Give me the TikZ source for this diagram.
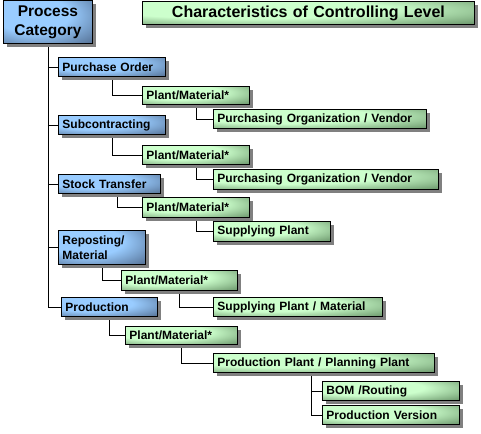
\documentclass[tikz,border=0pt]{standalone}
\usepackage{fontspec}
\setmainfont{Liberation Sans}
\usepackage{tikz}
\usetikzlibrary{shadows, backgrounds}
\usepackage{xcolor}

\definecolor{catlight}{HTML}{99CCFF}
\definecolor{catdark}{HTML}{3C506E}
\definecolor{charlight}{HTML}{CCFFCC}
\definecolor{chardark}{HTML}{466E46}

\pgfdeclareradialshading{catshade}{\pgfpoint{-12bp}{12bp}}{color(0bp)=(catlight); color(21bp)=(catlight); color(51bp)=(catdark); color(80bp)=(catdark)}
\pgfdeclareradialshading{charshade}{\pgfpoint{-12bp}{12bp}}{color(0bp)=(charlight); color(21bp)=(charlight); color(51bp)=(chardark); color(80bp)=(chardark)}

\tikzset{
	box/.style={draw, line width=0.9pt, anchor=north west, inner xsep=4pt, inner ysep=0pt,
		font=\bfseries\fontsize{12}{14}\selectfont, align=left,
		drop shadow={shadow xshift=4pt, shadow yshift=-4pt, fill=black!50, opacity=1}},
	catbox/.style={box, shade, shading=catshade},
	charbox/.style={box, shade, shading=charshade},
	link/.style={draw, line width=0.8pt}
}

\begin{document}
\begin{tikzpicture}[x=1pt, y=-1pt]
	\useasboundingbox (0,0) rectangle (481,433);
	\node[rectangle] at (3,0) [catbox, text width=81pt, minimum height=43pt, align=center, font=\bfseries\fontsize{15.5}{19}\selectfont] (pc) {Process\\Category};
	\node[rectangle] at (142,1) [charbox, text width=324pt, minimum height=23pt, align=center, font=\bfseries\fontsize{16}{18}\selectfont] (title) {Characteristics of Controlling Level};

	\node[rectangle] at (58,57) [catbox, text width=99pt, minimum height=19pt] (po) {Purchase Order};
	\node[rectangle] at (142,86) [charbox, text width=99pt, minimum height=18pt] (pm1) {Plant/Material*};
	\node[rectangle] at (213,109) [charbox, text width=205pt, minimum height=19pt] (pov1) {Purchasing Organization / Vendor};

	\node[rectangle] at (58,115) [catbox, text width=99pt, minimum height=19pt] (sub) {Subcontracting};
	\node[rectangle] at (142,145) [charbox, text width=99pt, minimum height=19pt] (pm2) {Plant/Material*};
	\node[rectangle] at (213,169) [charbox, text width=217pt, minimum height=20pt] (pov2) {Purchasing Organization / Vendor};

	\node[rectangle] at (58,174) [catbox, text width=94pt, minimum height=19pt] (st) {Stock Transfer};
	\node[rectangle] at (142,197) [charbox, text width=99pt, minimum height=20pt] (pm3) {Plant/Material*};
	\node[rectangle] at (213,221) [charbox, text width=109pt, minimum height=20pt] (sp) {Supplying Plant};

	\node[rectangle] at (58,230) [catbox, text width=79pt, minimum height=34pt, font=\bfseries\fontsize{12}{15}\selectfont] (rep) {Reposting/\\Material};
	\node[rectangle] at (121,270) [charbox, text width=108pt, minimum height=20pt] (pm4) {Plant/Material*};
	\node[rectangle] at (213,297) [charbox, text width=161pt, minimum height=19pt] (spm) {Supplying Plant / Material};

	\node[rectangle] at (61,297) [catbox, text width=88pt, minimum height=19pt] (prod) {Production};
	\node[rectangle] at (125,326) [charbox, text width=104pt, minimum height=18pt] (pm5) {Plant/Material*};
	\node[rectangle] at (213,353) [charbox, text width=213pt, minimum height=19pt] (ppp) {Production Plant / Planning Plant};
	\node[rectangle] at (322,381) [charbox, text width=129pt, minimum height=19pt] (bom) {BOM /Routing};
	\node[rectangle] at (322,405) [charbox, text width=129pt, minimum height=19pt] (pv) {Production Version};

	\begin{scope}[on background layer]
	\draw[link] (pc.south) |- (prod.west);
	\foreach \cat in {po,sub,st,rep}
		\draw[link] (pc.south |- \cat.west) -- (\cat.west);
	\draw[link] (po.south) |- (pm1.west);
	\draw[link] (pm1.south) |- (pov1.west);
	\draw[link] (sub.south) |- (pm2.west);
	\draw[link] (pm2.south) |- (pov2.west);
	\draw[link] ([xshift=8pt]st.south) |- (pm3.west);
	\draw[link] (pm3.south) |- (sp.west);
	\draw[link] (rep.south) |- (pm4.west);
	\draw[link] (pm4.south) |- (spm.west);
	\draw[link] (prod.south) |- (pm5.west);
	\draw[link] (pm5.south) |- (ppp.west);
	\draw[link] ([xshift=-13pt]ppp.south) |- (bom.west);
	\draw[link] ([xshift=-13pt]ppp.south) |- (pv.west);
	\end{scope}
\end{tikzpicture}
\end{document}
